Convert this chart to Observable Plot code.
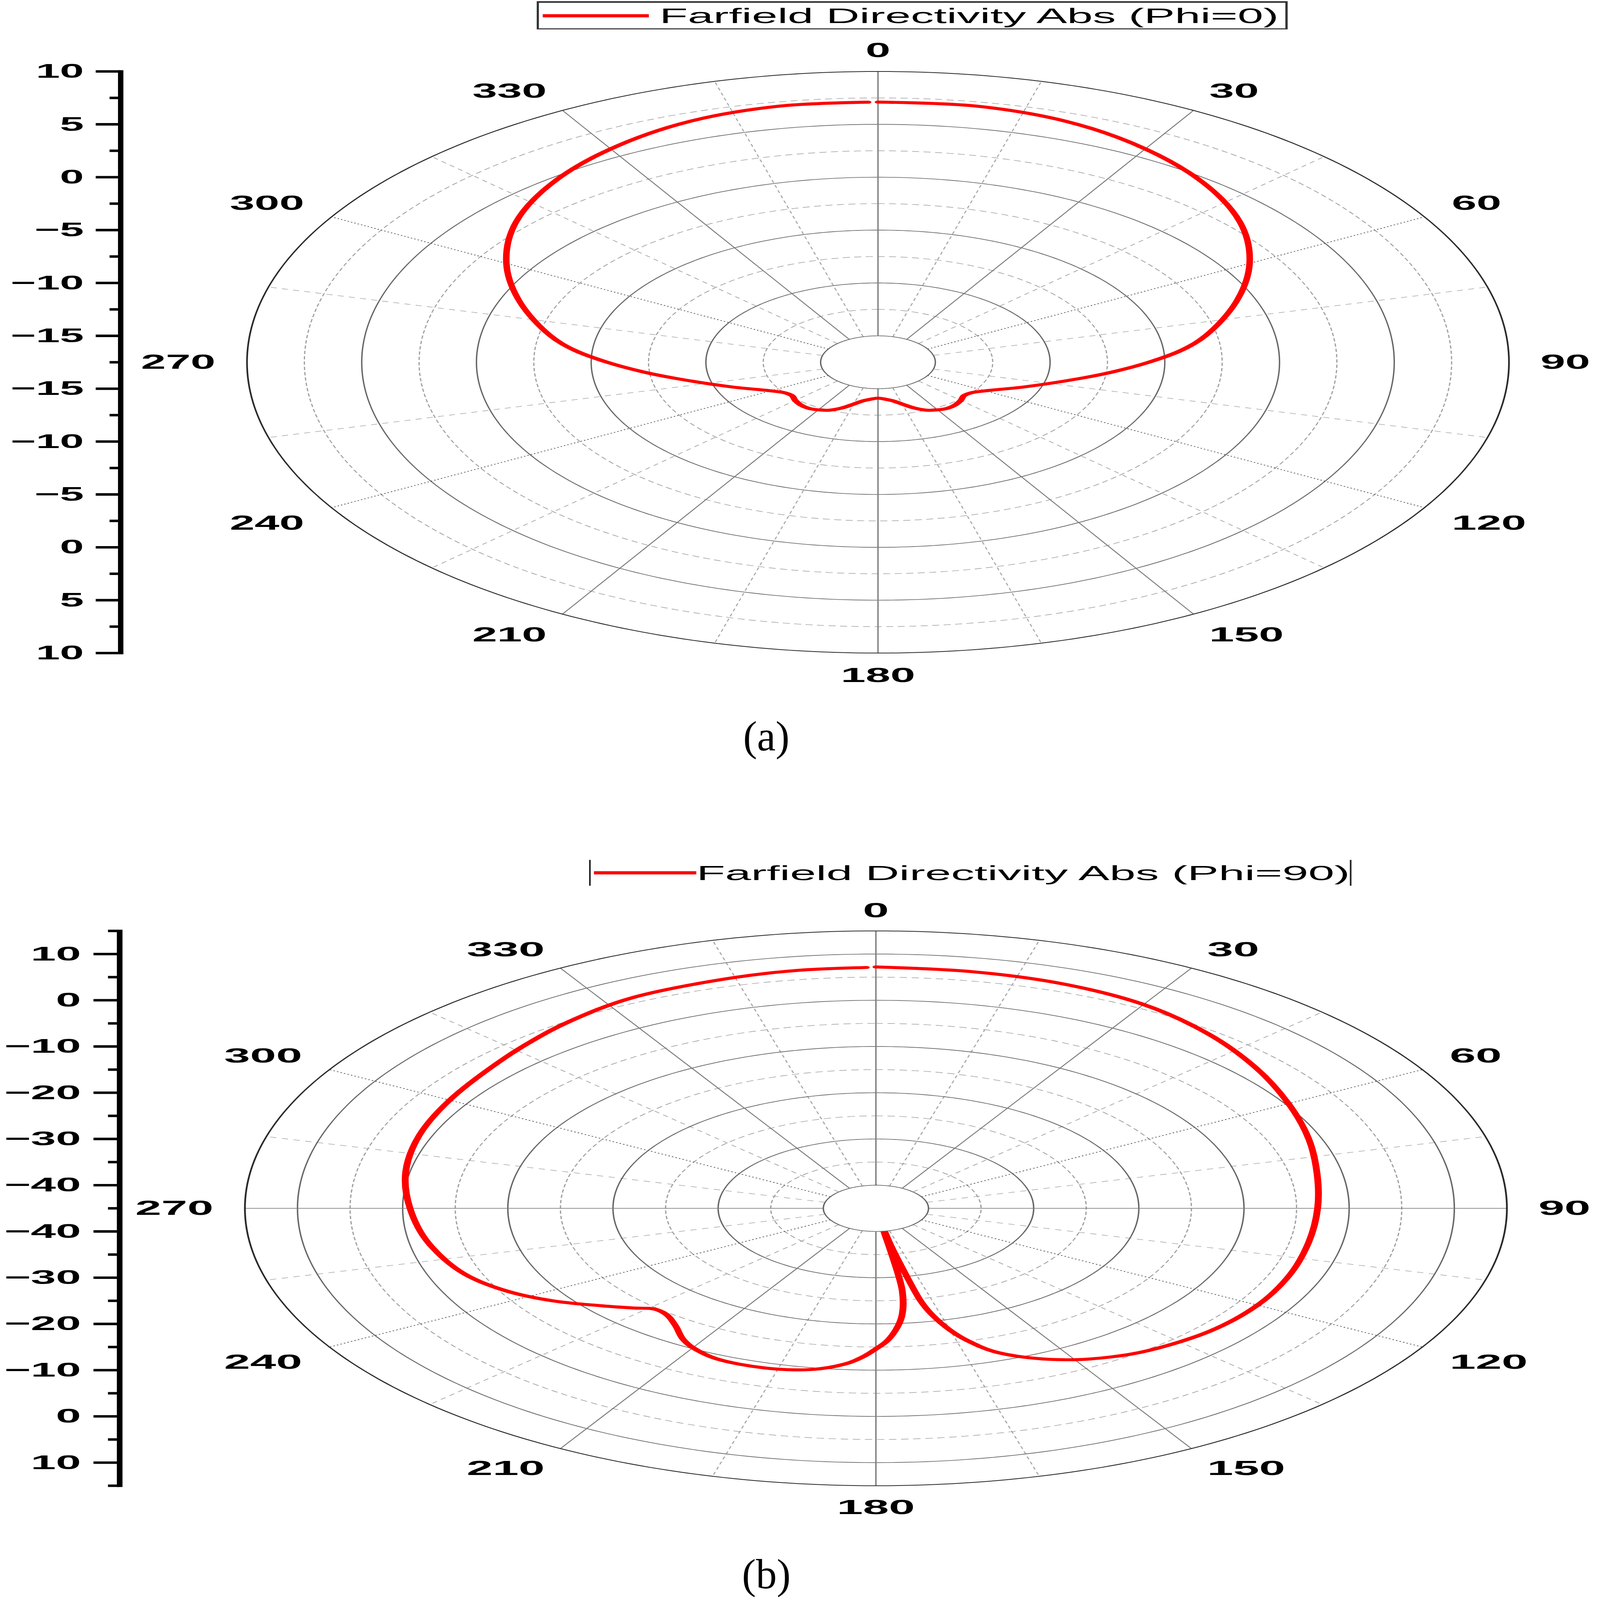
<!DOCTYPE html>
<html><head><meta charset="utf-8">
<script src="https://cdn.jsdelivr.net/npm/d3@7"></script>
<script src="https://cdn.jsdelivr.net/npm/@observablehq/plot@0.6"></script>
<style>
html,body{margin:0;padding:0;background:#fff;overflow:hidden;}
#page{position:relative;width:4488px;height:4516px;overflow:hidden;background:#fff;transform-origin:0 0;}
.panel{position:absolute;left:0;transform-origin:0 0;}
.panel svg{position:absolute;left:0;top:0;overflow:visible;}
.legend{position:absolute;box-sizing:border-box;display:flex;align-items:center;font-family:"Liberation Sans",Arial,sans-serif;color:#000;white-space:nowrap;}
.swatch{display:inline-block;background:#ff0000;}
.sub{position:absolute;font-family:"Liberation Serif","Times New Roman",serif;transform:translate(-50%,-50%);color:#000;}
</style></head><body><div id="page"></div>
<script>
// ---------- data ----------
const angleTicks = [0, 30, 60, 90, 120, 150, 180, 210, 240, 270, 300, 330];

// (a) Phi = 0 : theta (deg) and directivity (dB)
const thetaA = [0,10,20,30,40,50,60,70,80,85,90,95,100,110,120,125,130,135,140,145,150,155,160,165,170,175,180,
                185,190,195,200,205,210,215,220,225,230,235,240,250,260,265,270,275,280,290,300,310,320,330,340,350,359];
const dirA   = [7.1,7.1,6.7,5.8,4.6,3.1,1.2,-0.9,-3.0,-4.2,-5.7,-7.2,-8.6,-10.7,-12.1,-12.5,-12.6,-12.4,-12.25,-12.2,-12.3,-12.5,-12.9,-13.4,-13.8,-14.0,-14.1,
                -14.0,-13.8,-13.4,-12.9,-12.5,-12.3,-12.2,-12.25,-12.4,-12.6,-12.5,-12.1,-10.7,-8.6,-7.2,-5.7,-4.2,-3.0,-0.9,1.2,3.1,4.6,5.8,6.7,7.1,7.1];

// (b) Phi = 90 : theta (deg) and directivity (dB)
const thetaB = [0,10,20,30,40,50,60,70,80,90,100,110,120,130,140,145,150,155,160,163,165,167,168,169,170,171,172,174,176,178,
                180,182,185,190,197,205,210,213,217,221,224,227,231,237,243,250,260,270,280,290,300,312,318,324,333,345,352,359];
const dirB   = [7.2,7.0,6.7,5.9,4.2,2.2,0.3,-1.2,-2.4,-3.0,-3.2,-3.1,-3.1,-3.6,-4.8,-5.8,-7.2,-9.2,-12.0,-15.0,-17.7,-21.5,-24.5,-32,-37,-40.5,-27,-21.5,-18.5,-16.2,
                -14.6,-13.0,-11.2,-9.6,-8.9,-9.1,-10.2,-11.3,-13.3,-14.6,-14.7,-13.4,-11.5,-8.3,-5.6,-3.4,-1.8,-0.7,0.4,1.2,1.8,2.9,3.8,4.8,6.1,6.7,7.0,7.1];

// radial-axis tick labels (upper half, mirrored below the centre)
const axisLabelsA = [10, 5, 0, -5, -10, -15];
const axisLabelsB = [10, 0, -10, -20, -30, -40];

const legendA = "Farfield Directivity Abs (Phi=0)";
const legendB = "Farfield Directivity Abs (Phi=90)";
const captions = ["(a)", "(b)"];

// ---------- builder ----------
const page = document.getElementById("page");
const fit = Math.min(1, window.innerWidth / 4488, window.innerHeight / 4516);
page.style.transform = `scale(${fit})`;
const fmt = v => v < 0 ? "\u2212" + Math.abs(v) : String(v);

function buildPanel(o) {
  const P = o.rMax - o.rMin;              // outer radius in dB units from centre
  const holeR = o.hole - o.rMin;
  const rad = a => a * Math.PI / 180;
  const PX = (a, r) => r * Math.sin(rad(a));
  const PY = (a, r) => r * Math.cos(rad(a));
  const pts = o.theta.map((a, i) => ({a, r: o.values[i] - o.rMin}));
  const eps = 1e-6;
  const ringVals = d3.range(o.hole + o.step / 2, o.rMax + eps, o.step / 2);
  const kind = v => Math.abs(v - o.rMax) < eps ? "outer"
    : Math.abs((v - o.hole) / o.step - Math.round((v - o.hole) / o.step)) < eps ? "major" : "minor";
  const circ = d3.range(0, 361, 1);
  const ringPts = k => ringVals.filter(v => kind(v) === k).flatMap(v => circ.map(a => ({v, a, r: v - o.rMin})));
  const holePts = circ.map(a => ({a, r: holeR}));
  const spokeKind = a => a % 180 === 0 ? "axis" : a % 90 === 0 ? (o.horizontal ? "axis" : "none")
    : a % 60 === 0 ? "dot" : a % 30 === 0 ? "solid" : "minor";
  const spokes = k => d3.range(0, 360, 15).filter(a => spokeKind(a) === k);
  const linkOpts = {x1: a => PX(a, holeR), y1: a => PY(a, holeR), x2: a => PX(a, P), y2: a => PY(a, P)};

  const majorPos = o.axisLabels.flatMap(v => [v - o.rMin, -(v - o.rMin)]);
  const labelMap = new Map(o.axisLabels.flatMap(v => [[(v - o.rMin).toFixed(3), fmt(v)], [(-(v - o.rMin)).toFixed(3), fmt(v)]]));
  const minorPos = Array.from(new Set(d3.range(o.rMin, o.rMax + eps, o.step).flatMap(v => [v - o.rMin, o.rMin - v].map(p => +p.toFixed(6)))));
  const xy = {x: d => PX(d.a, d.r), y: d => PY(d.a, d.r)};

  // angular labels: nearest corner of each label sits just outside the outer ring
  const side = v => v > 0.01 ? 1 : v < -0.01 ? -1 : 0;
  const groups = d3.groups(angleTicks, a => side(Math.sin(rad(a))) + "," + side(Math.cos(rad(a))));
  const labelMarks = groups.map(([key, arr]) => {
    const [sx, sy] = key.split(",").map(Number);
    return Plot.text(arr, {
      x: a => PX(a, P * 1.05), y: a => PY(a, P * 1.05), text: a => String(a),
      textAnchor: sx > 0 ? "start" : sx < 0 ? "end" : "middle",
      lineAnchor: sy > 0 ? "bottom" : sy < 0 ? "top" : "middle",
      fontSize: 58, fontWeight: "bold", fill: "#000"
    });
  });

  const chart = Plot.plot({
    width: o.width, height: o.height,
    marginLeft: o.axisX, marginRight: 0,
    marginTop: o.cy - o.R, marginBottom: o.height - o.cy - o.R,
    x: {domain: [-P, P], range: [o.cx - o.R, o.cx + o.R], axis: null},
    y: {domain: [-P, P]},
    style: {fontFamily: "'Liberation Sans', Arial, sans-serif", fontSize: "58px", color: "#000", background: "transparent", overflow: "visible"},
    marks: [
      Plot.line(ringPts("minor"), {...xy, z: "v", stroke: "#a0a0a0", strokeWidth: 1.6, strokeDasharray: "8,7"}),
      Plot.link(spokes("minor"), {...linkOpts, stroke: "#a8a8a8", strokeWidth: 1.6, strokeDasharray: "8,7"}),
      Plot.line(ringPts("major"), {...xy, z: "v", stroke: "#666", strokeWidth: 1.8}),
      Plot.link(spokes("solid"), {...linkOpts, stroke: "#777", strokeWidth: 1.6}),
      Plot.link(spokes("dot"), {...linkOpts, stroke: "#555", strokeWidth: 1.8, strokeDasharray: "2,3"}),
      Plot.link(spokes("axis"), {...linkOpts, stroke: "#808080", strokeWidth: 1.8}),
      Plot.line(ringPts("outer"), {...xy, z: "v", stroke: "#2a2a2a", strokeWidth: 2.2}),
      Plot.line(pts, {...xy, stroke: "#ff0000", strokeWidth: 8.5, curve: "catmull-rom"}),
      Plot.line(holePts, {...xy, fill: "white", stroke: "#666", strokeWidth: 1.8}),
      ...labelMarks,
      Plot.axisY(minorPos, {anchor: "left", tickSize: 14, tickFormat: () => "", strokeWidth: 7, stroke: "#000"}),
      Plot.axisY(majorPos, {anchor: "left", tickSize: 32, tickPadding: 16, tickFormat: p => labelMap.get(p.toFixed(3)),
        strokeWidth: 7, stroke: "#000", fontSize: 56, fontWeight: "bold", fill: "#000"}),
      Plot.frame({anchor: "left", stroke: "#000", strokeWidth: 7})
    ]
  });

  const div = document.createElement("div");
  div.className = "panel";
  div.style.top = o.top + "px";
  div.style.width = o.width + "px";
  div.style.height = o.height + "px";
  div.style.transform = `scaleX(${o.stretch})`;
  div.appendChild(chart);

  const lg = document.createElement("div");
  lg.className = "legend";
  Object.assign(lg.style, o.legendStyle);
  const sw = document.createElement("span");
  sw.className = "swatch";
  Object.assign(sw.style, o.swatchStyle);
  const tx = document.createElement("span");
  tx.textContent = o.legend;
  tx.style.fontSize = o.legendFont + "px";
  lg.appendChild(sw); lg.appendChild(tx);
  div.appendChild(lg);
  page.appendChild(div);
}

buildPanel({
  theta: thetaA, values: dirA, rMin: -17.5, rMax: 10, hole: -15, step: 5,
  axisLabels: axisLabelsA, horizontal: false,
  width: 2066, height: 1990, top: 0, cx: 1141.6, cy: 1022, R: 820.8, axisX: 156.5, stretch: 2.1698,
  legend: legendA, legendFont: 60,
  legendStyle: {left: "698px", top: "3px", width: "977px", height: "80px", border: "3px solid #333", borderTopWidth: "5px", background: "#fff"},
  swatchStyle: {width: "138px", height: "9px", marginLeft: "5px", marginRight: "14px"}
});

buildPanel({
  theta: thetaB, values: dirB, rMin: -45, rMax: 15, hole: -40, step: 10,
  axisLabels: axisLabelsB, horizontal: true,
  width: 1973, height: 1900, top: 2400, cx: 1086.4, cy: 1010, R: 783, axisX: 148, stretch: 2.2746,
  legend: legendB, legendFont: 58,
  legendStyle: {left: "731px", top: "27px", width: "946px", height: "73px", borderLeft: "2px solid #222", borderRight: "2px solid #222", background: "#fff"},
  swatchStyle: {width: "132px", height: "9px", marginLeft: "4px", marginRight: "0px"}
});

[[captions[0], 2163, 2079], [captions[1], 2163, 4444]].forEach(([t, x, y]) => {
  const c = document.createElement("div");
  c.className = "sub";
  c.style.left = x + "px"; c.style.top = y + "px";
  c.style.fontSize = "118px";
  c.textContent = t;
  page.appendChild(c);
});
</script></body></html>
